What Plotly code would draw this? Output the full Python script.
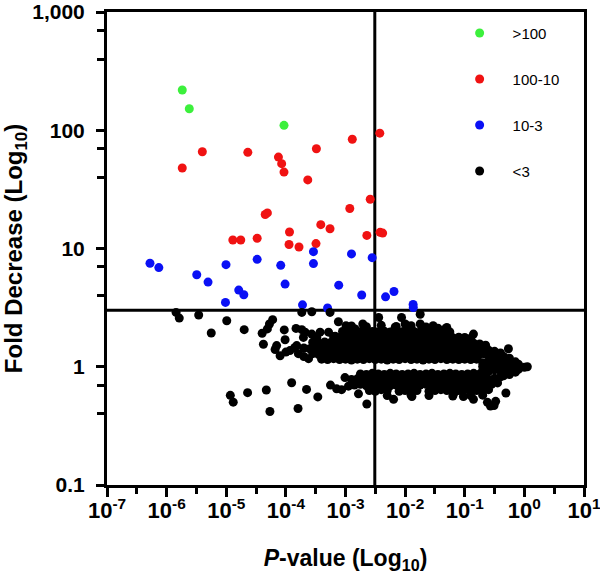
import plotly.graph_objects as go

# ---------------- data ----------------
p_threshold = 0.0031
fold_threshold = 3

gt100_p = [1.83e-6, 2.4e-6, 9.3e-5]
gt100_fold = [219, 152, 110]

r100_10_p = [1.83e-6, 3.97e-6, 2.3e-5, 7.5e-5, 8.5e-5, 9.3e-5, 4.5e-5, 4.9e-5, 1.29e-5,
             1.75e-5, 3.3e-5, 1.15e-4, 1.13e-4, 1.66e-4, 2.33e-4, 3.25e-4, 3.2e-4, 3.85e-4,
             5.5e-4, 1.18e-3, 1.3e-3, 3.76e-3, 2.6e-3, 2.28e-3, 3.8e-3, 4.2e-3]
r100_10_fold = [47.9, 65.8, 65, 59.3, 52.2, 44.3, 19.4, 20.0, 11.8,
                11.8, 12.2, 13.8, 10.8, 10.3, 38, 69.8, 11.0, 15.9,
                14.7, 21.8, 84, 94.5, 26.1, 12.9, 13.7, 13.5]

r10_3_p = [5.26e-7, 7.4e-7, 3.2e-6, 4.95e-6, 9.9e-6, 9.7e-6, 1.62e-5, 1.97e-5, 3.3e-5,
           8.2e-5, 9.7e-5, 1.9e-4, 2.9e-4, 2.9e-4, 5.0e-4, 7.7e-4, 1.26e-3, 1.87e-3,
           2.8e-3, 4.7e-3, 6.5e-3, 0.0136, 0.0137]
r10_3_fold = [7.5, 6.9, 6.0, 5.2, 7.3, 3.5, 4.45, 4.06, 8.1,
              7.2, 5.0, 3.34, 9.4, 7.45, 3.14, 4.9, 9.0, 4.04,
              8.37, 3.9, 4.33, 3.36, 3.17]

# <3 group: (p-value, fold decrease)
below3_scattered = [
    (1.44e-6, 2.88), (1.63e-6, 2.58), (3.45e-6, 2.74), (5.6e-6, 1.93), (1.02e-5, 2.45),
    (2.0e-5, 2.06), (4.0e-5, 1.92), (4.2e-5, 1.55), (4.9e-5, 2.09), (5.3e-5, 2.30),
    (6.0e-5, 2.50), (9.4e-5, 2.05), (9.7e-5, 1.69), (7.0e-5, 1.51), (6.6e-5, 1.40),
    (8.0e-5, 1.24), (1.0e-4, 1.33), (1.17e-4, 1.37), (1.62e-4, 1.29), (1.4e-4, 1.45),
    (2.0e-4, 1.22), (2.4e-4, 1.17), (1.48e-4, 2.11), (1.85e-4, 2.06), (2.1e-4, 1.96),
    (1.97e-4, 1.77), (2.72e-4, 1.89), (3.75e-4, 1.96), (5.2e-4, 1.96), (6.7e-4, 1.81),
    (1.85e-4, 2.88), (2.72e-4, 2.92), (5.5e-4, 2.88), (7.6e-4, 2.40), (1.02e-3, 2.22),
    (1.52e-4, 1.51), (3.3e-4, 1.77), (1.45e-3, 2.09), (1.95e-3, 2.30), (3.6e-3, 2.61),
    (6.8e-3, 2.15), (8.7e-3, 2.61), (0.0100, 2.30), (0.0107, 2.22), (0.0179, 2.78),
    (0.0179, 2.30), (0.0295, 2.22), (0.047, 2.09), (0.050, 2.15), (0.14, 1.89),
    (0.54, 1.42),
    # lower outliers
    (1.17e-5, 0.573), (1.31e-5, 0.502), (2.28e-5, 0.604), (4.7e-5, 0.636), (5.4e-5, 0.418),
    (1.25e-4, 0.733), (1.6e-4, 0.444), (2.22e-4, 0.643), (3.43e-4, 0.556), (2.28e-3, 0.484),
    (6.4e-3, 0.53), (0.013, 0.56), (9.8e-4, 0.81), (5.6e-4, 0.70), (7.1e-4, 0.65),
    (8.6e-4, 0.64), (1.12e-3, 0.685), (1.65e-3, 0.59), (0.065, 0.59), (0.095, 0.56),
    (0.14, 0.53), (0.24, 0.50), (0.27, 0.465), (0.31, 0.47), (0.33, 0.51), (0.49, 0.60),
]

below3_upper_band = [
    # ~1.15
    (3.98e-4, 1.16), (5.01e-4, 1.15), (6.31e-4, 1.17), (7.94e-4, 1.15), (1.0e-3, 1.16),
    (1.26e-3, 1.14), (1.58e-3, 1.16), (2.0e-3, 1.15), (2.51e-3, 1.17), (3.16e-3, 1.15),
    (3.98e-3, 1.16), (5.01e-3, 1.14), (6.31e-3, 1.16), (7.94e-3, 1.15), (1.0e-2, 1.17),
    (1.26e-2, 1.15), (1.58e-2, 1.16), (2.0e-2, 1.14), (2.51e-2, 1.16), (3.16e-2, 1.15),
    (3.98e-2, 1.17), (5.01e-2, 1.15), (6.31e-2, 1.16), (7.94e-2, 1.15), (0.100, 1.16),
    (0.126, 1.15), (0.158, 1.16),
    # ~1.28
    (2.82e-4, 1.29), (3.55e-4, 1.27), (4.47e-4, 1.28), (5.62e-4, 1.30), (7.08e-4, 1.27),
    (8.91e-4, 1.29), (1.12e-3, 1.28), (1.41e-3, 1.27), (1.78e-3, 1.29), (2.24e-3, 1.28),
    (2.82e-3, 1.30), (3.55e-3, 1.27), (4.47e-3, 1.29), (5.62e-3, 1.28), (7.08e-3, 1.27),
    (8.91e-3, 1.29), (1.12e-2, 1.28), (1.41e-2, 1.30), (1.78e-2, 1.27), (2.24e-2, 1.28),
    (2.82e-2, 1.29), (3.55e-2, 1.27), (4.47e-2, 1.28), (5.62e-2, 1.30), (7.08e-2, 1.28),
    (8.91e-2, 1.27), (0.112, 1.29), (0.141, 1.28), (0.178, 1.27), (0.224, 1.28),
    (0.282, 1.26), (0.355, 1.23), (0.447, 1.20),
    # ~1.43
    (2.0e-4, 1.44), (2.51e-4, 1.42), (3.16e-4, 1.45), (3.98e-4, 1.43), (5.01e-4, 1.41),
    (6.31e-4, 1.44), (7.94e-4, 1.43), (1.0e-3, 1.45), (1.26e-3, 1.42), (1.58e-3, 1.44),
    (2.0e-3, 1.43), (2.51e-3, 1.41), (3.16e-3, 1.44), (3.98e-3, 1.45), (5.01e-3, 1.43),
    (6.31e-3, 1.42), (7.94e-3, 1.44), (1.0e-2, 1.43), (1.26e-2, 1.45), (1.58e-2, 1.42),
    (2.0e-2, 1.44), (2.51e-2, 1.43), (3.16e-2, 1.41), (3.98e-2, 1.44), (5.01e-2, 1.43),
    (6.31e-2, 1.45), (7.94e-2, 1.42), (0.100, 1.43), (0.126, 1.41), (0.158, 1.43),
    (0.200, 1.40), (0.251, 1.38), (0.316, 1.35), (0.398, 1.31),
    # ~1.60
    (2.82e-4, 1.61), (3.55e-4, 1.59), (4.47e-4, 1.62), (5.62e-4, 1.60), (7.08e-4, 1.58),
    (8.91e-4, 1.61), (1.12e-3, 1.60), (1.41e-3, 1.62), (1.78e-3, 1.59), (2.24e-3, 1.61),
    (2.82e-3, 1.60), (3.55e-3, 1.58), (4.47e-3, 1.61), (5.62e-3, 1.62), (7.08e-3, 1.60),
    (8.91e-3, 1.59), (1.12e-2, 1.61), (1.41e-2, 1.60), (1.78e-2, 1.62), (2.24e-2, 1.59),
    (2.82e-2, 1.61), (3.55e-2, 1.60), (4.47e-2, 1.58), (5.62e-2, 1.61), (7.08e-2, 1.60),
    (8.91e-2, 1.59), (0.112, 1.61), (0.141, 1.58), (0.178, 1.56), (0.224, 1.52),
    # ~1.78
    (6.31e-4, 1.79), (7.94e-4, 1.77), (1.0e-3, 1.80), (1.26e-3, 1.78), (1.58e-3, 1.76),
    (2.0e-3, 1.79), (2.51e-3, 1.78), (3.16e-3, 1.80), (3.98e-3, 1.77), (5.01e-3, 1.79),
    (6.31e-3, 1.78), (7.94e-3, 1.76), (1.0e-2, 1.79), (1.26e-2, 1.80), (1.58e-2, 1.77),
    (2.0e-2, 1.78), (2.51e-2, 1.79), (3.16e-2, 1.77), (3.98e-2, 1.80), (5.01e-2, 1.78),
    (6.31e-2, 1.76), (7.94e-2, 1.78), (0.100, 1.77), (0.126, 1.74),
    # ~1.98
    (8.91e-4, 1.99), (1.12e-3, 1.97), (1.41e-3, 2.00), (1.78e-3, 1.98), (2.24e-3, 1.96),
    (2.82e-3, 1.99), (3.55e-3, 1.98), (4.47e-3, 2.00), (5.62e-3, 1.97), (7.08e-3, 1.99),
    (8.91e-3, 1.98), (1.12e-2, 1.96), (1.41e-2, 1.99), (1.78e-2, 1.97), (2.24e-2, 2.00),
    (2.82e-2, 1.98), (3.55e-2, 1.96), (4.47e-2, 1.99), (5.62e-2, 1.97),
    # ~2.2
    (1.26e-3, 2.21), (2.24e-3, 2.18), (3.98e-3, 2.24), (7.08e-3, 2.19), (1.26e-2, 2.22),
    (2.24e-2, 2.17), (3.55e-2, 2.12),
]

below3_tip = [
    (0.200, 1.01), (0.251, 0.99), (0.316, 1.02), (0.398, 1.00), (0.501, 0.98),
    (0.631, 1.01), (0.794, 1.00), (1.0, 0.99), (1.12, 1.00),
    (0.200, 1.08), (0.251, 1.12), (0.316, 1.10), (0.398, 1.09), (0.501, 1.12),
    (0.631, 1.07), (0.794, 1.05), (0.562, 1.18), (0.447, 1.22), (0.708, 1.10),
    (0.200, 0.93), (0.251, 0.91), (0.316, 0.94), (0.398, 0.92), (0.501, 0.93),
    (0.631, 0.92), (0.794, 0.95), (0.562, 0.86), (0.447, 0.84), (0.708, 0.90),
]

below3_lower_band = [
    # ~0.87
    (1.78e-3, 0.87), (2.24e-3, 0.86), (2.82e-3, 0.88), (3.55e-3, 0.87), (4.47e-3, 0.86),
    (5.62e-3, 0.88), (7.08e-3, 0.87), (8.91e-3, 0.86), (1.12e-2, 0.87), (1.41e-2, 0.88),
    (1.78e-2, 0.86), (2.24e-2, 0.87), (2.82e-2, 0.88), (3.55e-2, 0.86), (4.47e-2, 0.87),
    (5.62e-2, 0.88), (7.08e-2, 0.87), (8.91e-2, 0.86), (0.112, 0.87), (0.141, 0.88),
    (0.178, 0.87), (0.224, 0.86),
    # ~0.78
    (1.26e-3, 0.78), (1.58e-3, 0.79), (2.0e-3, 0.77), (2.51e-3, 0.78), (3.16e-3, 0.79),
    (3.98e-3, 0.78), (5.01e-3, 0.77), (6.31e-3, 0.79), (7.94e-3, 0.78), (1.0e-2, 0.77),
    (1.26e-2, 0.78), (1.58e-2, 0.79), (2.0e-2, 0.78), (2.51e-2, 0.77), (3.16e-2, 0.79),
    (3.98e-2, 0.78), (5.01e-2, 0.77), (6.31e-2, 0.78), (7.94e-2, 0.79), (0.100, 0.78),
    (0.126, 0.77), (0.158, 0.78), (0.200, 0.79), (0.251, 0.78), (0.316, 0.80),
    (0.398, 0.82),
    # ~0.70
    (1.41e-3, 0.70), (1.78e-3, 0.71), (2.24e-3, 0.69), (2.82e-3, 0.70), (3.55e-3, 0.71),
    (4.47e-3, 0.70), (5.62e-3, 0.69), (7.08e-3, 0.70), (8.91e-3, 0.71), (1.12e-2, 0.70),
    (1.41e-2, 0.69), (1.78e-2, 0.70), (2.24e-2, 0.71), (2.82e-2, 0.70), (3.55e-2, 0.69),
    (4.47e-2, 0.70), (5.62e-2, 0.71), (7.08e-2, 0.70), (8.91e-2, 0.69), (0.112, 0.70),
    (0.141, 0.71), (0.178, 0.70), (0.224, 0.69), (0.282, 0.71), (0.355, 0.73),
    # ~0.63
    (2.51e-3, 0.63), (3.16e-3, 0.62), (3.98e-3, 0.64), (5.01e-3, 0.63), (7.94e-3, 0.62),
    (1.0e-2, 0.63), (1.26e-2, 0.64), (1.58e-2, 0.63), (2.51e-2, 0.62), (3.16e-2, 0.63),
    (3.98e-2, 0.64), (5.01e-2, 0.63), (6.31e-2, 0.62), (7.94e-2, 0.63), (0.100, 0.64),
    (0.126, 0.62), (0.158, 0.63), (0.200, 0.62), (0.251, 0.64),
    # ~0.57
    (5.01e-3, 0.57), (1.26e-2, 0.575), (2.51e-2, 0.57), (6.31e-2, 0.565), (0.126, 0.57),
    (0.200, 0.575),
]

below3_all = below3_scattered + below3_upper_band + below3_tip + below3_lower_band
below3_p = [pt[0] for pt in below3_all]
below3_fold = [pt[1] for pt in below3_all]

x_tick_vals = [1e-7, 1e-6, 1e-5, 1e-4, 1e-3, 1e-2, 1e-1, 1e0, 1e1]
x_tick_text = ["10<sup>-7</sup>", "10<sup>-6</sup>", "10<sup>-5</sup>", "10<sup>-4</sup>",
               "10<sup>-3</sup>", "10<sup>-2</sup>", "10<sup>-1</sup>", "10<sup>0</sup>",
               "10<sup>1</sup>"]
x_minor_vals = [3.162e-7, 3.162e-6, 3.162e-5, 3.162e-4, 3.162e-3, 3.162e-2, 3.162e-1, 3.162]
y_tick_vals = [0.1, 1, 10, 100, 1000]
y_tick_text = ["0.1", "1", "10", "100", "1,000"]
y_minor_vals = [0.4, 0.7, 4, 7, 40, 70, 400, 700]

# ---------------- figure ----------------
FONT = "Liberation Sans, Arial, Helvetica, sans-serif"
MS = 9

fig = go.Figure()
series = [
    ("&gt;100", gt100_p, gt100_fold, "#3cf03c"),
    ("100-10", r100_10_p, r100_10_fold, "#f01212"),
    ("10-3", r10_3_p, r10_3_fold, "#0a10f5"),
    ("&lt;3", below3_p, below3_fold, "#000000"),
]
for i, (name, xs, ys, col) in enumerate(series):
    fig.add_trace(go.Scatter(
        x=xs, y=ys, mode="markers", name=name, legendgroup=f"g{i}",
        marker=dict(size=MS, color=col, line=dict(width=0)),
    ))

fig.add_shape(type="line", xref="x", yref="paper", x0=p_threshold, x1=p_threshold,
              y0=0, y1=1, line=dict(color="black", width=3), layer="below")
fig.add_shape(type="line", xref="paper", yref="y", x0=0, x1=1,
              y0=fold_threshold, y1=fold_threshold,
              line=dict(color="black", width=3), layer="below")

axis_common = dict(
    showline=True, linewidth=3, linecolor="black", mirror=True, automargin=False,
    showgrid=False, zeroline=False, ticks="outside", tickwidth=3, tickcolor="black",
    ticklabeloverflow="allow",
)

fig.update_xaxes(
    type="log", range=[-7, 1], tickmode="array", tickvals=x_tick_vals, ticktext=x_tick_text,
    ticklen=9, ticklabelstandoff=-5,
    tickfont=dict(family=FONT, size=22, color="black", weight="bold"),
    minor=dict(tickmode="array", tickvals=x_minor_vals, ticks="outside", ticklen=6,
               tickwidth=3, tickcolor="black", showgrid=False),
    title=dict(text="<i>P</i>-value (Log<sub>10</sub>)", standoff=30,
               font=dict(family=FONT, size=23, color="black", weight="bold")),
    **axis_common,
)
fig.update_yaxes(
    type="log", range=[-1, 3], tickmode="array", tickvals=y_tick_vals, ticktext=y_tick_text,
    ticklen=8, ticklabelstandoff=7,
    tickfont=dict(family=FONT, size=21, color="black", weight="bold"),
    minor=dict(tickmode="array", tickvals=y_minor_vals, ticks="outside", ticklen=7,
               tickwidth=3, tickcolor="black", showgrid=False),
    title=dict(text="Fold Decrease (Log<sub>10</sub>)", standoff=6,
               font=dict(family=FONT, size=24, color="black", weight="bold")),
    **axis_common,
)

fig.update_layout(
    width=600, height=574,
    margin=dict(l=107, r=16, t=12, b=89),
    plot_bgcolor="white", paper_bgcolor="white",
    font=dict(family=FONT, color="black"),
    showlegend=True,
    legend=dict(x=0.712, y=0.99, xanchor="left", yanchor="top",
                font=dict(family=FONT, size=15, color="black"),
                bgcolor="rgba(0,0,0,0)", tracegroupgap=23.5, itemwidth=56),
)

fig.write_html("out.html", config={"displayModeBar": False},
               post_script="document.body.style.margin='0';document.body.style.overflow='hidden';")
